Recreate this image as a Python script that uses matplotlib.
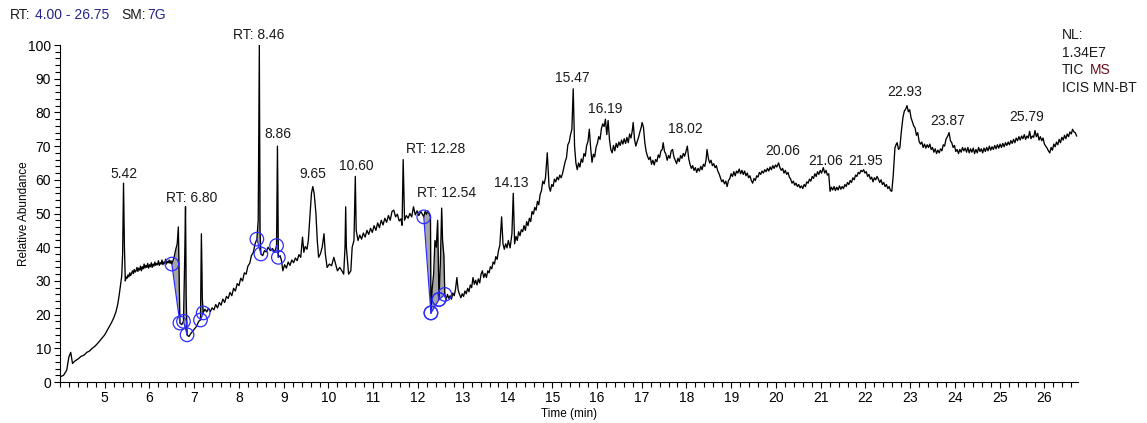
import matplotlib.pyplot as plt
import numpy as np
from matplotlib.ticker import MultipleLocator

plt.rcParams['font.family'] = ['Liberation Sans', 'DejaVu Sans']

# TIC trace in segments of (retention time min, relative abundance %)
seg_start = [
    (4.00, 1.5), (4.08, 2.0), (4.15, 3.5), (4.20, 7.5), (4.24, 8.8), (4.28, 5.5), (4.33, 6.2),
    (4.40, 6.8), (4.47, 7.6), (4.54, 8.0), (4.60, 8.8), (4.66, 9.2), (4.72, 10.0), (4.78, 10.6),
    (4.85, 11.6), (4.90, 12.4), (4.95, 13.2), (5.00, 14.0), (5.05, 15.2), (5.10, 16.4),
    (5.15, 17.6), (5.20, 19.0), (5.25, 20.8), (5.29, 23.0), (5.32, 25.5), (5.35, 28.5),
    (5.38, 31.5), (5.40, 38.0), (5.42, 59.0), (5.44, 40.0),
]
seg_plateau = [
    (5.46, 30.0), (5.48, 31.2), (5.50, 30.8), (5.52, 31.8), (5.54, 31.2), (5.56, 32.4), (5.58, 31.6),
    (5.60, 32.2), (5.62, 33.0), (5.64, 32.2), (5.66, 33.4), (5.68, 32.6), (5.70, 33.0), (5.72, 34.0),
    (5.74, 32.8), (5.76, 33.8), (5.78, 33.2), (5.80, 34.4), (5.82, 33.0), (5.84, 34.2), (5.86, 33.6),
    (5.88, 35.0), (5.90, 33.8), (5.92, 34.6), (5.94, 34.0), (5.96, 35.2), (5.98, 33.8), (6.00, 34.8),
    (6.02, 34.2), (6.04, 35.4), (6.06, 34.0), (6.08, 35.0), (6.10, 34.4), (6.12, 35.6), (6.14, 34.6),
    (6.16, 35.2), (6.18, 34.8), (6.20, 36.0), (6.22, 34.6), (6.24, 35.4), (6.26, 35.0), (6.28, 36.2),
    (6.30, 34.8), (6.32, 35.6), (6.34, 35.2), (6.36, 36.4), (6.38, 35.0), (6.40, 35.8), (6.42, 35.4),
    (6.44, 36.2), (6.46, 35.2), (6.48, 36.0), (6.50, 35.0),
]
seg_dip = [
    (6.55, 37.0), (6.59, 39.5), (6.62, 41.0), (6.645, 46.0), (6.665, 30.0), (6.68, 17.5),
    (6.72, 17.0), (6.76, 18.0), (6.785, 35.0), (6.805, 52.0), (6.82, 25.0), (6.84, 14.0),
    (6.88, 13.5), (6.93, 14.5), (6.99, 15.5), (7.05, 16.5), (7.10, 18.0), (7.14, 18.4),
    (7.16, 44.0), (7.18, 25.0),
]
seg_rise = [
    (7.20, 20.5), (7.24, 21.6), (7.28, 20.8), (7.32, 21.9), (7.36, 20.9), (7.40, 22.0), (7.44, 21.4),
    (7.48, 23.0), (7.52, 22.0), (7.56, 23.6), (7.60, 22.8), (7.64, 24.6), (7.68, 23.6), (7.72, 25.4),
    (7.76, 24.8), (7.80, 26.6), (7.84, 25.6), (7.88, 27.8), (7.92, 27.0), (7.96, 29.2), (8.00, 28.6),
    (8.04, 30.8), (8.08, 30.0), (8.12, 32.4), (8.16, 32.0), (8.20, 34.4), (8.24, 35.2), (8.28, 37.6),
    (8.32, 38.4), (8.36, 41.0), (8.40, 42.4), (8.43, 48.0), (8.455, 100.0), (8.47, 45.0),
    (8.49, 38.0), (8.53, 37.5), (8.57, 39.0), (8.61, 38.6), (8.65, 40.0), (8.70, 39.0),
    (8.75, 39.6), (8.80, 38.5), (8.84, 40.5), (8.86, 70.0), (8.88, 37.0), (8.92, 37.5),
    (8.95, 36.0),
]
seg_mid = [
    (8.98, 33.0), (9.02, 34.8), (9.06, 33.8), (9.10, 35.6), (9.14, 34.6), (9.18, 36.2), (9.22, 35.4),
    (9.26, 36.8), (9.30, 36.0), (9.34, 37.8), (9.38, 37.0), (9.42, 43.0), (9.45, 38.5), (9.48, 40.2),
    (9.52, 39.4), (9.55, 42.0), (9.58, 48.0), (9.62, 56.0), (9.65, 58.0), (9.68, 56.0), (9.72, 50.0),
    (9.75, 42.0), (9.78, 37.0), (9.82, 38.0), (9.86, 40.0), (9.90, 44.0), (9.93, 38.0), (9.97, 34.0),
    (10.02, 35.0), (10.07, 34.5), (10.12, 37.0), (10.16, 35.0), (10.20, 33.0), (10.25, 34.0),
    (10.30, 33.0), (10.34, 32.0), (10.37, 40.0), (10.385, 52.0), (10.40, 40.0), (10.45, 32.0),
    (10.50, 33.0), (10.53, 40.0), (10.57, 42.0), (10.60, 61.0), (10.62, 45.0),
]
seg_shelf = [
    (10.66, 42.0), (10.70, 43.6), (10.74, 42.4), (10.78, 44.2), (10.82, 43.0), (10.86, 45.0),
    (10.90, 43.8), (10.94, 45.6), (10.98, 44.4), (11.02, 46.4), (11.06, 45.0), (11.10, 47.2),
    (11.14, 45.8), (11.18, 48.0), (11.22, 46.6), (11.26, 48.6), (11.30, 47.4), (11.34, 49.4),
    (11.38, 48.0), (11.42, 50.6), (11.46, 51.0), (11.50, 49.0), (11.54, 49.8), (11.58, 47.8),
    (11.62, 48.4), (11.645, 46.5), (11.67, 66.0), (11.70, 48.0), (11.74, 49.4), (11.78, 48.6),
    (11.82, 50.0), (11.86, 49.0), (11.90, 52.0), (11.94, 49.6), (11.98, 50.8), (12.02, 49.4),
    (12.06, 50.6), (12.10, 49.8), (12.13, 49.0), (12.16, 50.6), (12.19, 49.8), (12.22, 50.8),
    (12.25, 50.0), (12.28, 49.0),
]
seg_cluster = [
    (12.29, 20.5), (12.32, 28.0), (12.35, 32.0), (12.38, 42.0), (12.41, 40.0), (12.44, 48.0),
    (12.47, 24.5), (12.50, 35.0), (12.53, 51.6), (12.55, 42.0), (12.58, 37.5), (12.60, 26.0),
]
seg_climb = [
    (12.63, 24.5), (12.66, 26.0), (12.69, 24.8), (12.72, 25.6), (12.75, 24.6), (12.78, 26.4),
    (12.81, 25.6), (12.84, 27.6), (12.87, 31.0), (12.90, 27.2), (12.93, 26.0), (12.96, 25.0),
    (12.99, 26.2), (13.02, 25.4), (13.05, 27.0), (13.08, 26.2), (13.11, 27.8), (13.14, 26.8),
    (13.17, 28.8), (13.20, 28.0), (13.23, 31.0), (13.26, 29.0), (13.29, 30.2), (13.32, 28.8),
    (13.35, 30.6), (13.38, 29.4), (13.41, 32.0), (13.44, 33.0), (13.47, 31.0), (13.50, 32.2),
    (13.53, 31.0), (13.56, 33.0), (13.59, 32.4), (13.62, 34.2), (13.65, 33.6), (13.68, 35.6),
    (13.71, 35.0), (13.74, 37.2), (13.77, 36.4), (13.80, 39.0), (13.83, 40.6), (13.87, 49.0),
    (13.90, 41.0), (13.93, 39.4), (13.96, 41.0), (13.99, 39.8), (14.02, 42.0), (14.06, 39.8),
    (14.10, 44.0), (14.13, 56.0), (14.16, 41.0), (14.19, 43.2), (14.22, 42.0), (14.25, 44.6),
    (14.28, 43.4), (14.31, 45.2), (14.34, 44.6), (14.37, 46.4), (14.40, 45.0), (14.43, 47.6),
    (14.46, 46.4), (14.49, 48.6), (14.52, 47.6), (14.55, 50.6), (14.58, 49.8), (14.61, 51.8),
    (14.64, 51.0), (14.67, 53.6), (14.70, 52.6), (14.73, 55.6), (14.76, 56.8), (14.79, 59.6),
    (14.82, 58.8), (14.85, 60.6), (14.89, 68.0), (14.93, 58.0), (14.96, 56.6), (14.99, 58.6),
    (15.02, 58.0), (15.05, 60.2), (15.08, 59.4), (15.11, 60.8), (15.14, 60.0), (15.17, 61.4),
    (15.20, 60.6), (15.23, 61.8), (15.26, 63.6), (15.29, 65.4), (15.32, 66.6), (15.35, 70.4),
    (15.38, 71.2), (15.41, 73.4), (15.44, 75.0), (15.47, 87.0),
]
seg_hump = [
    (15.50, 70.0), (15.53, 65.0), (15.56, 63.0), (15.59, 65.0), (15.62, 63.8), (15.65, 66.2),
    (15.68, 65.2), (15.71, 67.8), (15.74, 67.0), (15.77, 70.2), (15.80, 71.4), (15.83, 75.0),
    (15.86, 69.4), (15.89, 65.2), (15.92, 67.6), (15.95, 66.8), (15.98, 69.6), (16.01, 70.8),
    (16.04, 72.8), (16.07, 72.0), (16.10, 75.2), (16.13, 76.6), (16.16, 75.8), (16.19, 78.0),
    (16.22, 73.4), (16.25, 77.6), (16.28, 72.0), (16.31, 69.0), (16.34, 68.0), (16.37, 70.2),
    (16.40, 68.6), (16.43, 70.8), (16.46, 69.6), (16.49, 71.2), (16.52, 70.2), (16.55, 71.8),
    (16.58, 70.6), (16.61, 72.2), (16.64, 70.8), (16.67, 72.6), (16.70, 71.0), (16.73, 73.6),
    (16.76, 72.4), (16.79, 74.6), (16.81, 77.0), (16.84, 72.0), (16.87, 70.0), (16.90, 71.4),
    (16.93, 72.6), (16.96, 74.2), (16.99, 75.6), (17.01, 77.0), (17.04, 75.6), (17.07, 71.0),
    (17.10, 68.4), (17.13, 67.0), (17.16, 66.0), (17.19, 66.8), (17.22, 64.6), (17.25, 65.8),
    (17.28, 64.4), (17.31, 66.0), (17.34, 65.4), (17.37, 67.4), (17.40, 66.6), (17.43, 68.6),
    (17.46, 69.0), (17.48, 71.0), (17.51, 68.4), (17.54, 67.6), (17.57, 65.8), (17.60, 67.2),
    (17.63, 66.4), (17.66, 68.6), (17.69, 69.0), (17.72, 66.8), (17.75, 65.8), (17.78, 64.8),
    (17.81, 66.4), (17.84, 65.4), (17.87, 67.2), (17.90, 66.4), (17.93, 67.8), (17.96, 67.0),
    (17.99, 68.4), (18.02, 70.0), (18.05, 66.4), (18.08, 64.6), (18.11, 63.4), (18.14, 64.2),
    (18.17, 62.8), (18.20, 63.6), (18.23, 62.2), (18.26, 63.4), (18.29, 62.6), (18.32, 64.0),
    (18.35, 63.0), (18.38, 64.6), (18.41, 64.0), (18.44, 66.0), (18.46, 69.0), (18.49, 66.4),
    (18.52, 65.0), (18.55, 65.8), (18.58, 64.2), (18.61, 64.8), (18.64, 63.6), (18.67, 64.2),
    (18.70, 62.6), (18.73, 61.8), (18.76, 60.6), (18.79, 59.4), (18.82, 60.0), (18.85, 58.8),
    (18.88, 59.6), (18.91, 58.0),
]
seg_valley = [
    (18.94, 59.8), (18.97, 60.4), (19.00, 61.8), (19.03, 61.0), (19.06, 62.4), (19.09, 61.2),
    (19.12, 62.6), (19.15, 62.0), (19.18, 63.2), (19.21, 61.8), (19.24, 62.8), (19.27, 61.6),
    (19.30, 62.6), (19.33, 61.2), (19.36, 62.0), (19.39, 60.6), (19.42, 61.2), (19.45, 59.8),
    (19.48, 59.0), (19.51, 60.4), (19.54, 59.8), (19.57, 61.2), (19.60, 60.8), (19.63, 62.2),
    (19.66, 61.6), (19.69, 62.6), (19.72, 62.0), (19.75, 63.0), (19.78, 62.4), (19.81, 63.4),
    (19.84, 62.6), (19.87, 63.8), (19.90, 63.0), (19.93, 64.2), (19.96, 63.4), (19.99, 64.4),
    (20.02, 63.8), (20.06, 65.0), (20.09, 63.6), (20.12, 62.8), (20.15, 63.4), (20.18, 62.0),
    (20.21, 62.8), (20.24, 61.6), (20.27, 62.2), (20.30, 60.8), (20.33, 60.2), (20.36, 59.0),
    (20.39, 59.6), (20.42, 58.4), (20.45, 59.0), (20.48, 58.0), (20.51, 58.6), (20.54, 57.6),
    (20.57, 58.2), (20.60, 57.4), (20.63, 58.6), (20.66, 58.0), (20.69, 59.4), (20.72, 59.0),
    (20.75, 60.2), (20.78, 59.6), (20.81, 61.0), (20.84, 60.4), (20.87, 61.8), (20.90, 61.0),
    (20.93, 62.4), (20.96, 61.6), (20.99, 62.8), (21.02, 62.0), (21.06, 63.6), (21.09, 62.0),
    (21.12, 62.8), (21.15, 61.4), (21.18, 61.8), (21.21, 56.6), (21.24, 57.8), (21.27, 57.0),
    (21.30, 58.0), (21.33, 56.8), (21.36, 57.8), (21.39, 57.0), (21.42, 58.2), (21.45, 57.2),
    (21.48, 58.0), (21.51, 57.4), (21.54, 58.6), (21.57, 58.0), (21.60, 59.2), (21.63, 58.6),
    (21.66, 59.8), (21.69, 59.2), (21.72, 60.6), (21.75, 60.0), (21.78, 61.4), (21.81, 61.0),
    (21.84, 62.2), (21.87, 61.8), (21.90, 62.8), (21.93, 62.4), (21.96, 63.0), (21.99, 62.0),
    (22.02, 62.4), (22.05, 61.0), (22.08, 61.6), (22.11, 60.2), (22.14, 60.8), (22.17, 59.4),
    (22.20, 60.6), (22.23, 60.0), (22.26, 61.0), (22.29, 60.2), (22.32, 59.2), (22.35, 60.0),
    (22.38, 58.6), (22.41, 59.2), (22.44, 58.0), (22.47, 58.6), (22.50, 57.4), (22.53, 58.0),
    (22.56, 56.8), (22.59, 56.6),
]
seg_tail = [
    (22.62, 61.0), (22.66, 69.5), (22.69, 70.6), (22.71, 71.0), (22.74, 69.0), (22.77, 69.5),
    (22.80, 74.0), (22.84, 78.6), (22.87, 80.4), (22.90, 81.0), (22.93, 82.0), (22.96, 80.2),
    (22.99, 80.8), (23.02, 78.4), (23.05, 77.2), (23.08, 76.0), (23.11, 75.4), (23.14, 73.2),
    (23.17, 74.0), (23.20, 71.4), (23.23, 70.6), (23.26, 71.2), (23.29, 69.6), (23.32, 70.6),
    (23.35, 69.4), (23.38, 70.4), (23.41, 69.6), (23.44, 70.6), (23.47, 69.0), (23.50, 69.6),
    (23.53, 68.2), (23.56, 69.2), (23.59, 67.8), (23.62, 68.8), (23.65, 68.0), (23.68, 69.2),
    (23.71, 68.6), (23.74, 70.4), (23.77, 70.0), (23.80, 72.0), (23.84, 73.0), (23.87, 74.0),
    (23.90, 71.6), (23.93, 71.0), (23.96, 69.6), (23.99, 70.2), (24.02, 68.4), (24.05, 69.0),
    (24.08, 67.8), (24.11, 69.0), (24.14, 68.2), (24.17, 69.6), (24.20, 68.6), (24.23, 69.4),
    (24.26, 68.2), (24.29, 69.6), (24.32, 68.0), (24.35, 69.2), (24.38, 68.2), (24.41, 69.4),
    (24.44, 67.8), (24.47, 69.0), (24.50, 68.0), (24.53, 69.6), (24.56, 68.4), (24.59, 69.2),
    (24.62, 68.0), (24.65, 69.4), (24.68, 68.4), (24.71, 69.6), (24.74, 68.6), (24.77, 70.0),
    (24.80, 68.8), (24.83, 69.8), (24.86, 69.0), (24.89, 70.2), (24.92, 69.2), (24.95, 70.4),
    (24.98, 69.4), (25.01, 70.6), (25.04, 69.6), (25.07, 70.8), (25.10, 69.8), (25.13, 71.0),
    (25.16, 70.2), (25.19, 71.2), (25.22, 70.4), (25.25, 71.6), (25.28, 70.8), (25.31, 72.0),
    (25.34, 71.0), (25.37, 72.4), (25.40, 71.6), (25.43, 72.8), (25.46, 71.8), (25.49, 73.0),
    (25.52, 72.2), (25.55, 73.4), (25.58, 72.0), (25.61, 73.0), (25.64, 72.4), (25.67, 74.4),
    (25.70, 72.2), (25.73, 73.0), (25.76, 72.6), (25.79, 74.6), (25.82, 72.8), (25.85, 73.8),
    (25.88, 71.8), (25.91, 72.8), (25.94, 71.6), (25.97, 72.4), (26.00, 70.6), (26.03, 70.0),
    (26.06, 69.4), (26.09, 68.6), (26.12, 68.0), (26.15, 69.6), (26.18, 68.8), (26.21, 70.6),
    (26.24, 69.8), (26.27, 71.2), (26.30, 70.4), (26.33, 72.0), (26.36, 71.0), (26.39, 72.6),
    (26.42, 71.8), (26.45, 73.2), (26.48, 72.2), (26.51, 73.6), (26.54, 72.8), (26.57, 74.2),
    (26.60, 73.6), (26.63, 75.0), (26.66, 74.2), (26.69, 74.0), (26.72, 73.0),
]

# integrated peaks: start / end retention times
int_start = [6.50, 6.76, 7.14, 8.40, 8.84, 12.13, 12.29, 12.47]
int_end = [6.68, 6.84, 7.20, 8.49, 8.88, 12.29, 12.47, 12.60]

# peak annotations
label_rt = [5.43, 6.95, 8.44, 8.87, 9.65, 10.63, 12.39, 12.64, 14.09, 15.45, 16.19, 17.97,
            20.16, 21.12, 22.00, 22.88, 23.84, 25.61]
label_y = [59.5, 52.5, 101.0, 71.5, 59.5, 62.0, 67.0, 54.0, 57.0, 88.0, 79.0, 73.0,
           66.5, 63.5, 63.5, 84.0, 75.5, 76.5]
label_txt = ['5.42', 'RT: 6.80', 'RT: 8.46', '8.86', '9.65', '10.60', 'RT: 12.28', 'RT: 12.54',
             '14.13', '15.47', '16.19', '18.02', '20.06', '21.06', '21.95', '22.93', '23.87', '25.79']

trace = np.array(seg_start + seg_plateau + seg_dip + seg_rise + seg_mid + seg_shelf
                 + seg_cluster + seg_climb + seg_hump + seg_valley + seg_tail)
rt, ab = trace[:, 0], trace[:, 1]

fig = plt.figure(figsize=(11.47, 4.23), dpi=100)
ax = fig.add_axes([0.0523, 0.0969, 0.8875, 0.7967])

# shaded peak areas above the blue baselines
for t0, t1 in zip(int_start, int_end):
    y0 = np.interp(t0, rt, ab)
    y1 = np.interp(t1, rt, ab)
    m = (rt >= t0) & (rt <= t1)
    base = y0 + (y1 - y0) * (rt[m] - t0) / (t1 - t0)
    ax.fill_between(rt[m], ab[m], base, color='#a6a6a6', lw=0, zorder=1)

ax.plot(rt, ab, color='black', lw=0.95, zorder=2)

for t0, t1 in zip(int_start, int_end):
    y0 = np.interp(t0, rt, ab)
    y1 = np.interp(t1, rt, ab)
    ax.plot([t0, t1], [y0, y1], color='#2b2bff', lw=0.9, zorder=3)
    ax.scatter([t0, t1], [y0, y1], s=95, facecolors='none', edgecolors='#2b2bff',
               linewidths=0.9, zorder=4)

for t, y, s in zip(label_rt, label_y, label_txt):
    ax.text(t, y, s, ha='center', va='bottom', fontsize=10, color='#1a1a1a')

ax.set_xlim(4.0, 26.75)
ax.set_ylim(0, 100)
ax.spines['top'].set_visible(False)
ax.spines['right'].set_visible(False)
ax.xaxis.set_major_locator(MultipleLocator(1))
ax.xaxis.set_minor_locator(MultipleLocator(0.2))
ax.yaxis.set_major_locator(MultipleLocator(10))
ax.yaxis.set_minor_locator(MultipleLocator(2))
ax.tick_params(which='major', length=4.5, width=0.8, labelsize=10, pad=2)
ax.tick_params(which='minor', length=3.5, width=0.8)
ax.set_xticks(range(5, 27))
ax.set_xlabel('Time (min)', fontsize=8.5, labelpad=2)
ax.set_ylabel('Relative Abundance', fontsize=8.5, labelpad=-1.5)

# run header and normalisation info
fig.text(0.0087, 0.965, 'RT:', fontsize=10, va='center', color='#1a1a1a')
fig.text(0.0305, 0.965, '4.00 - 26.75', fontsize=10, va='center', color='#23238c')
fig.text(0.1060, 0.965, 'SM:', fontsize=10, va='center', color='#1a1a1a')
fig.text(0.1285, 0.965, '7G', fontsize=10, va='center', color='#23238c')

fig.text(0.926, 0.917, 'NL:', fontsize=10, va='center', color='#1a1a1a')
fig.text(0.926, 0.875, '1.34E7', fontsize=10, va='center', color='#1a1a1a')
fig.text(0.926, 0.834, 'TIC', fontsize=10, va='center', color='#1a1a1a')
fig.text(0.950, 0.834, 'MS', fontsize=10, va='center', color='#6a1020')
fig.text(0.926, 0.793, 'ICIS MN-BT', fontsize=10, va='center', color='#1a1a1a')

fig.savefig('out.png', dpi=100, facecolor='white')
